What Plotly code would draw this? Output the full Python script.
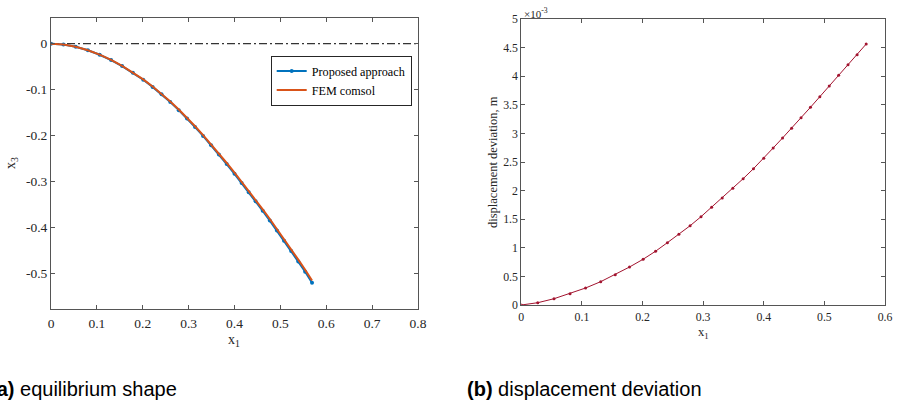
import plotly.graph_objects as go

# ---------------- data ----------------
x1_prop = [0, 0.0271, 0.0540, 0.0804, 0.1060, 0.1310, 0.1550, 0.1785, 0.2010, 0.2215,
           0.2410, 0.2600, 0.2785, 0.2965, 0.3140, 0.3315, 0.3490, 0.3660, 0.3830, 0.4000,
           0.4155, 0.4310, 0.4460, 0.4615, 0.4770, 0.4925, 0.5080, 0.5235, 0.5390, 0.5540, 0.5690]
x3_prop = [0, -0.0017, -0.0066, -0.0143, -0.0240, -0.0356, -0.0486, -0.0630, -0.0785, -0.0940,
           -0.1101, -0.1270, -0.1446, -0.1627, -0.1813, -0.2007, -0.2209, -0.2412, -0.2620, -0.2833,
           -0.3031, -0.3232, -0.3430, -0.3638, -0.3850, -0.4067, -0.4289, -0.4514, -0.4742, -0.4964, -0.5200]
x1_fem = [0, 0.0271, 0.0540, 0.0804, 0.1060, 0.1310, 0.1550, 0.1785, 0.2010, 0.2215,
          0.2410, 0.2600, 0.2785, 0.2965, 0.3140, 0.3315, 0.3490, 0.3660, 0.3830, 0.4000,
          0.4155, 0.4310, 0.4460, 0.4615, 0.4770, 0.4925, 0.5080, 0.5235, 0.5390, 0.5540, 0.5690]
x3_fem = [0, -0.0017, -0.0065, -0.0141, -0.0237, -0.0352, -0.0481, -0.0623, -0.0777, -0.0931,
          -0.1090, -0.1258, -0.1432, -0.1612, -0.1796, -0.1988, -0.2189, -0.2390, -0.2596, -0.2807,
          -0.3004, -0.3203, -0.3399, -0.3605, -0.3815, -0.4031, -0.4251, -0.4474, -0.4700, -0.4920, -0.5154]
ref_x = [0, 0.8]
ref_y = [0, 0]

dev_x1 = x1_prop
dev_e3 = [0, 0.04, 0.11, 0.198, 0.297, 0.408, 0.53, 0.664, 0.80, 0.94,
          1.09, 1.235, 1.386, 1.544, 1.708, 1.871, 2.040, 2.208, 2.383, 2.565,
          2.745, 2.92, 3.089, 3.274, 3.456, 3.642, 3.829, 4.016, 4.201, 4.376, 4.563]

xa_ticks = [0, 0.1, 0.2, 0.3, 0.4, 0.5, 0.6, 0.7, 0.8]
xa_text = ["0", "0.1", "0.2", "0.3", "0.4", "0.5", "0.6", "0.7", "0.8"]
ya_ticks = [0, -0.1, -0.2, -0.3, -0.4, -0.5]
ya_text = ["0", "-0.1", "-0.2", "-0.3", "-0.4", "-0.5"]
xb_ticks = [0, 0.1, 0.2, 0.3, 0.4, 0.5, 0.6]
xb_text = ["0", "0.1", "0.2", "0.3", "0.4", "0.5", "0.6"]
yb_ticks = [0, 0.5, 1, 1.5, 2, 2.5, 3, 3.5, 4, 4.5, 5]
yb_text = ["0", "0.5", "1", "1.5", "2", "2.5", "3", "3.5", "4", "4.5", "5"]

W, H = 897, 404
SERIF = "Liberation Serif"
SANS = "Liberation Sans"
TXT = "#262626"
LINE = "#555555"

def px(x):
    return x / W

def py(y):
    return 1 - y / H

fig = go.Figure()

fig.add_trace(go.Scatter(x=ref_x, y=ref_y, mode="lines", showlegend=False,
                         line=dict(color="black", width=1, dash="8px,3px,2px,3px"),
                         xaxis="x", yaxis="y", hoverinfo="skip"))
fig.add_trace(go.Scatter(x=x1_prop, y=x3_prop, mode="lines+markers", name="Proposed approach",
                         line=dict(color="#0072BD", width=2),
                         marker=dict(color="#0072BD", size=4),
                         xaxis="x", yaxis="y"))
fig.add_trace(go.Scatter(x=x1_fem, y=x3_fem, mode="lines", name="FEM comsol",
                         line=dict(color="#D95319", width=2),
                         xaxis="x", yaxis="y"))
fig.add_trace(go.Scatter(x=dev_x1, y=dev_e3, mode="lines+markers", showlegend=False,
                         line=dict(color="#A2142F", width=1),
                         marker=dict(color="#A2142F", size=3),
                         xaxis="x2", yaxis="y2"))

axis_common = dict(showgrid=False, zeroline=False, showline=True, linecolor=LINE, linewidth=1,
                   mirror="ticks", ticks="inside", ticklen=4, tickcolor=LINE, tickwidth=1,
                   automargin=False)

fig.update_layout(
    width=W, height=H,
    margin=dict(l=0, r=0, t=0, b=0, pad=0, autoexpand=False),
    paper_bgcolor="white", plot_bgcolor="white",
    xaxis=dict(domain=[px(51), px(418)], range=[0, 0.8], tickvals=xa_ticks, ticktext=xa_text,
               anchor="y", ticklabelstandoff=2,
               tickfont=dict(family=SERIF, size=13.5, color=TXT), **axis_common),
    yaxis=dict(domain=[py(309), py(18.3)], range=[-0.5774, 0.0553], tickvals=ya_ticks, ticktext=ya_text,
               anchor="x", tickfont=dict(family=SERIF, size=13.5, color=TXT), **axis_common),
    xaxis2=dict(domain=[px(521.3), px(885)], range=[0, 0.6], tickvals=xb_ticks, ticktext=xb_text,
                anchor="y2", ticklabelstandoff=1,
                tickfont=dict(family=SERIF, size=11.8, color=TXT), **axis_common),
    yaxis2=dict(domain=[py(305), py(19)], range=[0, 5], tickvals=yb_ticks, ticktext=yb_text,
                anchor="x2", tickfont=dict(family=SERIF, size=11.8, color=TXT), **axis_common),
    legend=dict(x=px(270.7), y=py(80.5), xanchor="left", yanchor="middle",
                bgcolor="white", bordercolor=TXT, borderwidth=1,
                font=dict(family=SERIF, size=12.2, color="black"),
                itemwidth=30, tracegroupgap=0),
    showlegend=True,
)

annotations = [
    dict(x=px(234.5), y=py(340), text="x<sub>1</sub>", font=dict(family=SERIF, size=14, color=TXT)),
    dict(x=px(11), y=py(163), text="x<sub>3</sub>", textangle=-90, font=dict(family=SERIF, size=14, color=TXT)),
    dict(x=px(703), y=py(332.5), text="x<sub>1</sub>", font=dict(family=SERIF, size=12.5, color=TXT)),
    dict(x=px(493), y=py(162), text="displacement deviation, m", textangle=-90,
         font=dict(family=SERIF, size=12.5, color=TXT)),
    dict(x=px(522), y=py(13), text="×10<sup>-3</sup>", xanchor="left",
         font=dict(family=SERIF, size=11, color=TXT)),
    dict(x=px(-11.7), y=py(389), text="<b>(a)</b> equilibrium shape", xanchor="left",
         font=dict(family=SANS, size=20, color="black")),
    dict(x=px(465), y=py(389), text="<b>(b)</b> displacement deviation", xanchor="left",
         font=dict(family=SANS, size=20, color="black")),
]
for a in annotations:
    a.setdefault("xref", "paper")
    a.setdefault("yref", "paper")
    a.setdefault("showarrow", False)
    a.setdefault("xanchor", "center")
    a.setdefault("yanchor", "middle")
fig.update_layout(annotations=annotations)

fig.write_html("out.html")
